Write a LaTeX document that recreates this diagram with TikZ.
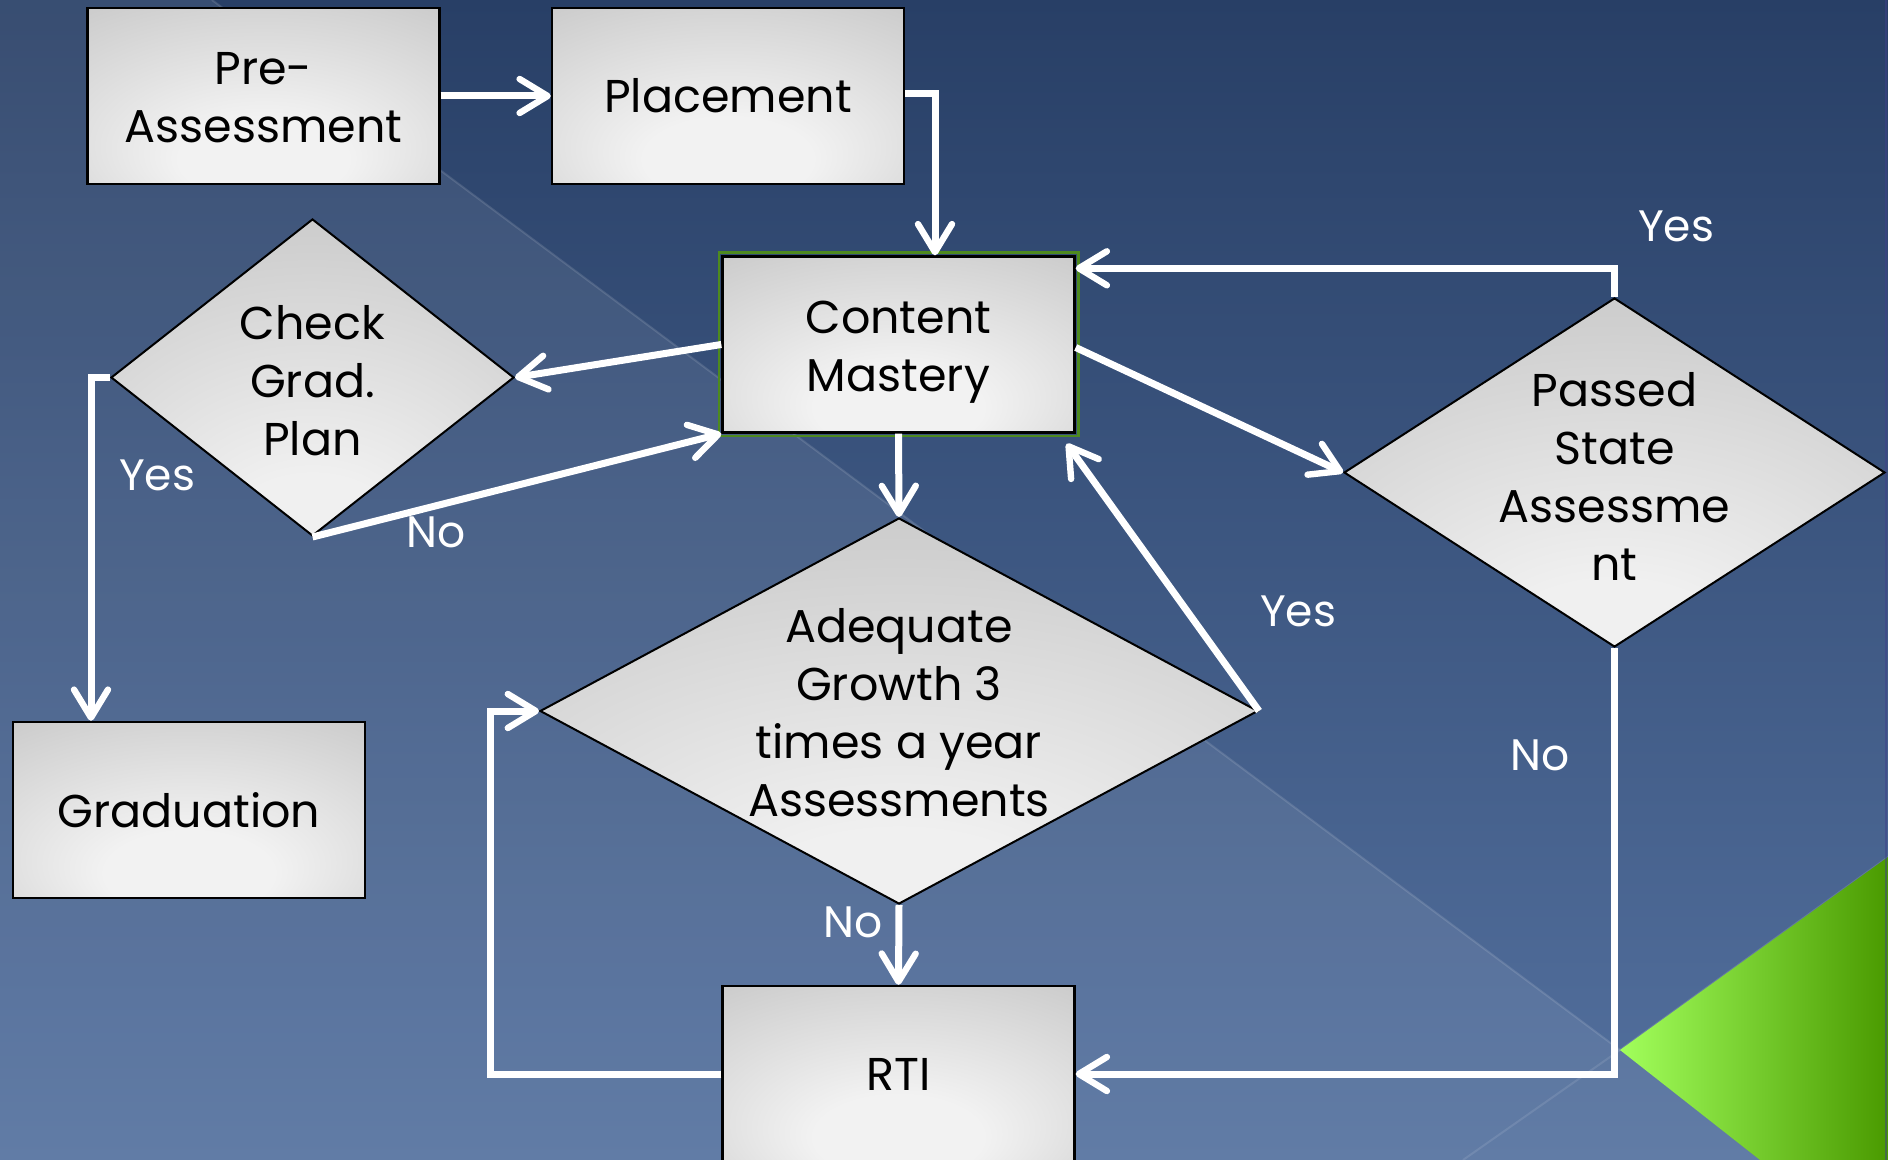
\documentclass[tikz,border=0pt]{standalone}
\usepackage{fontspec}
\setmainfont{Poppins}
\usetikzlibrary{shapes.geometric,arrows.meta,calc}
\definecolor{bgtop}{HTML}{283F66}
\definecolor{bgbot}{HTML}{54719F}
\definecolor{boxlight}{HTML}{F2F2F2}
\definecolor{boxmid}{HTML}{C6C6C6}
\definecolor{boxdark}{HTML}{A2A2A2}
\definecolor{dlight}{HTML}{F0F0F0}
\definecolor{dmid}{HTML}{D0D0D0}
\definecolor{ddark}{HTML}{B8B8B8}
\definecolor{cmgreen}{HTML}{4E8A1E}
\definecolor{gA}{HTML}{A2FF5C}
\definecolor{gB}{HTML}{78EE12}
\definecolor{gC}{HTML}{4A9A00}
\pgfdeclareradialshading{boxshade}{\pgfpoint{0bp}{-22bp}}{color(0bp)=(boxlight); color(12bp)=(boxlight); color(46bp)=(boxmid); color(66bp)=(boxdark)}
\pgfdeclareradialshading{diashade}{\pgfpoint{0bp}{-32bp}}{color(0bp)=(dlight); color(12bp)=(dlight); color(38bp)=(dmid); color(62bp)=(ddark); color(85bp)=(ddark)}
\tikzset{
  boxnode/.style={rectangle, draw=black, line width=1.2pt, shade, shading=boxshade,
    minimum width=176pt, minimum height=88pt, inner sep=0pt, align=center,
    font=\fontsize{23}{29}\selectfont},
  dianode/.style={diamond, draw=black, line width=1pt, shade, shading=diashade, inner sep=0pt},
  dtext/.style={align=center, inner sep=0pt, font=\fontsize{23}{29}\selectfont},
  lbl/.style={text=white, inner sep=0pt, font=\fontsize{22}{26}\selectfont},
  flow/.style={draw=white, line width=3.5pt, -{Straight Barb[length=14pt,width=17pt,line width=3.2pt,round]}}
}
\begin{document}
\begin{tikzpicture}[x=0.5pt,y=-0.5pt]
\useasboundingbox (0,0) rectangle (1897,1160);
\clip (0,0) rectangle (1897,1160);
% background
\shade[top color=bgtop, bottom color=bgbot] (0,0) rectangle (1897,1160);
\fill[white, opacity=0.08] (0,0) -- (212,0) -- (1620,1050) -- (1760,1160) -- (0,1160) -- cycle;
\draw[white, opacity=0.12, line width=1pt] (212,0) -- (1620,1050) -- (1888,857);
\draw[white, opacity=0.10, line width=1pt] (1620,1050) -- (1463,1160);
\shade[left color=gA, middle color=gB, right color=gC] (1620,1050) -- (1888,857) -- (1888,1160) -- (1760,1160) -- cycle;
\fill[white] (1888,0) rectangle (1897,1160);
\draw[black!40!blue!50!gray, opacity=0.5, line width=1pt] (1886,0) -- (1886,1160);

% boxes
\node[boxnode] (pre) at (263.5,96) {\rule{0pt}{17.5pt}Pre-\\Assessment};
\node[boxnode] (place) at (728,96) {Placement};
\node[boxnode] (cm) at (898.5,344.5) {\rule{0pt}{24pt}Content\\Mastery};
\draw[cmgreen, line width=1.3pt] ($(cm.north west)+(-2.5,-2.5)$) rectangle ($(cm.south east)+(2.5,2.5)$);
\node[boxnode] (grad) at (189,810) {Graduation};
\node[boxnode] (rti) at (898.5,1074) {RTI};

% diamonds
\node[dianode, minimum width=201.5pt, minimum height=158.5pt] (check) at (312.5,377.5) {};
\node[dtext] (checkt) at ($(check)+(0,3)$) {Check\\Grad.\\Plan};
\node[dianode, minimum width=359pt, minimum height=193pt] (adeq) at (899,711) {};
\node[dtext] (adeqt) at ($(adeq)+(0,2)$) {Adequate\\Growth 3\\times a year\\Assessments};
\node[dianode, minimum width=270.5pt, minimum height=174.5pt] (pass) at (1614.5,472.5) {};
\node[dtext] (passt) at ($(pass)+(0,4)$) {Passed\\State\\Assessme\\nt};

% connectors
\draw[flow] (pre.east) -- (place.west);
\draw[flow] ($(place.east)+(0,-2)$) -| ($(cm.north)+(36.5,0)$);
\draw[flow] (cm.west) -- (check.east);
\draw[flow] (check.south) -- (cm.south west);
\draw[flow] (check.west) -| ($(grad.north)+(-98,0)$);
\draw[flow] (cm.south) -- (adeq.north);
\draw[flow] (adeq.south) -- (rti.north);
\draw[flow] (adeq.east) -- ($(cm.south east)+(-9,10)$);
\draw[flow] ($(cm.east)+(0,3)$) -- (pass.west);
\draw[flow] (pass.north) |- ($(cm.north east)+(0,13)$);
\draw[flow] (pass.south) |- (rti.east);
\draw[flow] (rti.west) -| ($(adeq.west)+(-49,0)$) -- (adeq.west);

% labels
\node[lbl] (l1) at (1676,226) {Yes};
\node[lbl] (l2) at (157,475) {Yes};
\node[lbl] (l3) at (436,532) {No};
\node[lbl] (l4) at (1298,611) {Yes};
\node[lbl] (l5) at (1540,755) {No};
\node[lbl] (l6) at (853,922) {No};
\end{tikzpicture}
\end{document}
